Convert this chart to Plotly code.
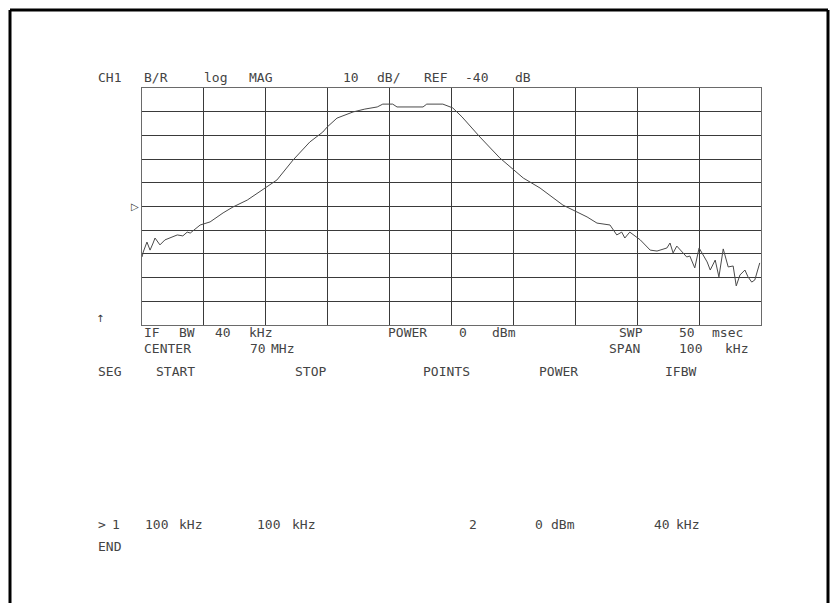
import plotly.graph_objects as go

OFF = 8  # page body margin; coordinates below are measured in page pixels
W, H = 838 - 2 * OFF, 611 - 2 * OFF

# Trace: frequency offset from 70 MHz centre (kHz) and magnitude (dB)
freq_offset_khz = [-50.0, -49.8, -49.2, -48.7, -48.2, -47.9, -47.1, -46.3, -44.3, -43.4,
                   -42.7, -42.2, -40.6, -39.0, -36.9, -35.3, -33.0, -29.8, -28.2, -25.6,
                   -22.9, -20.8, -20.1, -18.5, -15.9, -14.0, -12.0, -11.1, -9.5, -8.8,
                   -4.6, -4.0, -1.4, 0.2, 1.7, 4.6, 7.8, 11.6, 14.3, 18.0,
                   20.3, 21.9, 23.5, 25.6, 26.7, 27.5, 28.0, 28.8, 30.5, 32.1,
                   33.2, 34.8, 35.3, 35.8, 36.4, 38.0, 38.5, 39.3, 40.0, 41.3,
                   41.8, 42.6, 43.2, 43.9, 44.7, 45.5, 46.0, 46.6, 47.4, 47.9,
                   48.5, 49.0, 49.8]
mag_db = [-61.3, -59.2, -55.0, -58.4, -55.4, -53.3, -56.2, -54.1, -52.0, -52.4,
          -50.8, -51.2, -47.8, -46.5, -42.7, -40.2, -37.3, -31.8, -28.8, -20.4,
          -12.8, -8.6, -6.5, -2.7, -0.1, 1.1, 2.0, 3.2, 3.2, 2.0,
          2.0, 3.2, 3.2, 1.6, -2.2, -10.7, -19.5, -28.0, -32.2, -39.4,
          -42.3, -44.4, -47.0, -47.8, -52.0, -50.8, -53.3, -50.8, -54.1, -58.4,
          -58.8, -57.5, -55.4, -59.6, -56.7, -61.3, -60.9, -65.9, -57.5, -63.4,
          -66.8, -62.6, -69.7, -57.9, -65.5, -65.1, -73.5, -68.9, -66.8, -69.7,
          -71.9, -71.0, -63.8]

ref_db = -40
scale_db = 10
x_range = [-50, 50]
y_range = [ref_db - 5 * scale_db, ref_db + 5 * scale_db]

# Text tokens: (text, x px)
header_tokens = [("CH1", 96), ("B/R", 142), ("log", 202), ("MAG", 247),
                 ("10", 341), ("dB/", 375), ("REF", 422), ("-40", 463), ("dB", 513)]
info1_tokens = [("IF", 142), ("BW", 177), ("40", 213), ("kHz", 247),
                ("POWER", 386), ("0", 457), ("dBm", 490),
                ("SWP", 617), ("50", 677), ("msec", 710)]
info2_tokens = [("CENTER", 142), ("70", 248), ("MHz", 269),
                ("SPAN", 607), ("100", 677), ("kHz", 723)]
table_header = [("SEG", 96), ("START", 154), ("STOP", 293), ("POINTS", 421),
                ("POWER", 537), ("IFBW", 663)]
table_row = [(">", 96), ("1", 110), ("100", 143), ("kHz", 177), ("100", 255), ("kHz", 290),
             ("2", 467), ("0", 533), ("dBm", 549), ("40", 652), ("kHz", 674)]
table_end = [("END", 96)]

GRID_L, GRID_R, GRID_T, GRID_B = 142 - OFF, 761 - OFF, 88 - OFF, 325 - OFF

def px(x):
    return (x - OFF) / W

def py(y):
    return 1 - (y - OFF) / H

fig = go.Figure()
fig.add_trace(go.Scatter(x=freq_offset_khz, y=mag_db, mode="lines",
                         line=dict(color="#4a4a4a", width=1), hoverinfo="skip"))

axis_common = dict(showgrid=True, gridcolor="#3a3a3a", gridwidth=1, showticklabels=False,
                   ticks="", zeroline=False, showline=True, linecolor="#6a6a6a",
                   linewidth=1, mirror=True, fixedrange=True)
fig.update_xaxes(range=x_range, dtick=10, tick0=-50,
                 domain=[GRID_L / W, GRID_R / W], **axis_common)
fig.update_yaxes(range=y_range, dtick=10, tick0=-90,
                 domain=[1 - GRID_B / H, 1 - GRID_T / H], **axis_common)

font = dict(family="DejaVu Sans Mono", size=13, color="#444444")
annotations = []

def put(tokens, y):
    for t, x in tokens:
        annotations.append(dict(text=t, x=px(x), y=py(y), xref="paper", yref="paper",
                                xanchor="left", yanchor="middle", showarrow=False, font=font))

put(header_tokens, 77)
put(info1_tokens, 333)
put(info2_tokens, 348)
put(table_header, 371)
put(table_row, 524)
put(table_end, 546)
# reference position marker and arrow
annotations.append(dict(text="▷", x=px(141), y=py(207), xref="paper", yref="paper",
                        xanchor="right", yanchor="middle", showarrow=False,
                        font=dict(family="DejaVu Sans", size=10, color="#333333")))
annotations.append(dict(text="↑", x=px(100), y=py(318), xref="paper", yref="paper",
                        xanchor="center", yanchor="middle", showarrow=False,
                        font=dict(family="DejaVu Sans", size=10, color="#333333")))

BX_L, BX_R, BY_T = 10, 828, 10
shapes = [
    dict(type="line", xref="paper", yref="paper", x0=px(BX_L), x1=px(BX_L), y0=0, y1=py(BY_T),
         line=dict(color="black", width=3)),
    dict(type="line", xref="paper", yref="paper", x0=px(BX_L), x1=px(BX_R), y0=py(BY_T), y1=py(BY_T),
         line=dict(color="black", width=3)),
    dict(type="line", xref="paper", yref="paper", x0=px(BX_R), x1=px(BX_R), y0=0, y1=py(BY_T),
         line=dict(color="black", width=3)),
]

fig.update_layout(width=W, height=H, margin=dict(l=0, r=0, t=0, b=0),
                  paper_bgcolor="white", plot_bgcolor="white", showlegend=False,
                  annotations=annotations, shapes=shapes)

fig.write_html("out.html")
